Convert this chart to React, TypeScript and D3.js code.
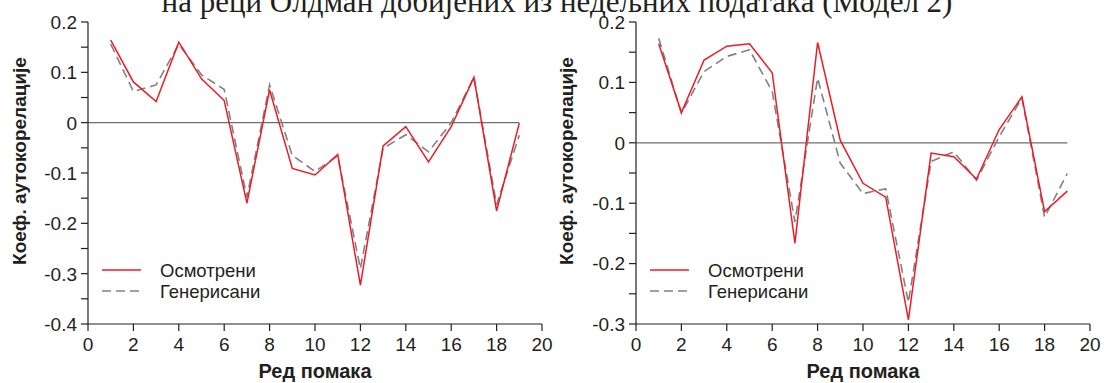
import React from "react";
import * as d3 from "d3";

const lags = d3.range(1, 20);
const leftObserved = [0.164, 0.081, 0.042, 0.16, 0.087, 0.044, -0.16, 0.065, -0.091, -0.104, -0.063, -0.323, -0.046, -0.008, -0.078, -0.008, 0.09, -0.175, -0.001];
const leftGenerated = [0.156, 0.062, 0.075, 0.156, 0.095, 0.066, -0.148, 0.075, -0.065, -0.097, -0.066, -0.29, -0.051, -0.024, -0.058, 0.0, 0.09, -0.163, -0.025];
const rightObserved = [0.164, 0.05, 0.137, 0.16, 0.164, 0.116, -0.166, 0.166, 0.004, -0.067, -0.09, -0.293, -0.017, -0.023, -0.06, 0.022, 0.076, -0.114, -0.08];
const rightGenerated = [0.173, 0.049, 0.118, 0.143, 0.154, 0.085, -0.131, 0.107, -0.034, -0.084, -0.076, -0.264, -0.031, -0.015, -0.062, 0.01, 0.074, -0.123, -0.051];

const xTicks = d3.range(0, 21, 2);
const leftYTicks = [0.2, 0.1, 0, -0.1, -0.2, -0.3, -0.4];
const rightYTicks = [0.2, 0.1, 0, -0.1, -0.2, -0.3];

const titleText = "на реци Олдман добијених из недељних података (Модел 2)";
const yLabel = "Коеф. аутокорелације";
const xLabel = "Ред помака";
const legendLabels = ["Осмотрени", "Генерисани"];

const FONT = "'Liberation Sans', Arial, sans-serif";
const AXIS = "#231f20";

function fmt(v: number) {
  if (Math.abs(v) < 1e-9) return "0";
  return d3.format(".1f")(v).replace("\u2212", "-");
}

function Panel({ x0, x1, y0, y1, yDomain, yTicks, observed, generated, labelX }: any) {
  const x = d3.scaleLinear().domain([0, 20]).range([x0, x1]);
  const y = d3.scaleLinear().domain(yDomain).range([y1, y0]);
  const line = d3
    .line<number>()
    .x((_, i) => x(lags[i]))
    .y((d) => y(d));
  const minor: number[] = [];
  for (let i = 0; i < yTicks.length - 1; i++) minor.push((yTicks[i] + yTicks[i + 1]) / 2);
  const legX = x0 + 14;
  const legY = 270;
  return (
    <g>
      <line x1={x(0)} x2={x(19)} y1={y(0)} y2={y(0)} stroke="#6d6e70" strokeWidth={1.3} />
      <line x1={x0} x2={x0} y1={y(yDomain[1])} y2={y(yDomain[0])} stroke={AXIS} strokeWidth={1.2} />
      {yTicks.map((t: number) => (
        <g key={"y" + t}>
          <line x1={x0 - 7} x2={x0} y1={y(t)} y2={y(t)} stroke={AXIS} strokeWidth={1.2} />
          <text x={x0 - 11} y={y(t)} dy="0.36em" textAnchor="end" fontSize={19} fontFamily={FONT} fill="#231f20">
            {fmt(t)}
          </text>
        </g>
      ))}
      {minor.map((t) => (
        <line key={"m" + t} x1={x0 - 7} x2={x0} y1={y(t)} y2={y(t)} stroke={AXIS} strokeWidth={1.2} />
      ))}
      <line x1={x0} x2={x1} y1={y1} y2={y1} stroke={AXIS} strokeWidth={1.2} />
      {xTicks.map((t) => (
        <g key={"x" + t}>
          <line x1={x(t)} x2={x(t)} y1={y1} y2={y1 + 7} stroke={AXIS} strokeWidth={1.2} />
          <text x={x(t)} y={y1 + 27} textAnchor="middle" fontSize={19} fontFamily={FONT} fill="#231f20">
            {t}
          </text>
        </g>
      ))}
      <text x={(x0 + x1) / 2} y={378} textAnchor="middle" fontSize={20} fontWeight="bold" fontFamily={FONT} fill="#231f20">
        {xLabel}
      </text>
      <text
        transform={`translate(${labelX},${(y0 + y1) / 2 - 12}) rotate(-90)`}
        textAnchor="middle"
        fontSize={19}
        fontWeight="bold"
        fontFamily={FONT}
        fill="#231f20"
      >
        {yLabel}
      </text>
      <path d={line(generated) || ""} fill="none" stroke="#808285" strokeWidth={1.6} strokeDasharray="9,5" />
      <path d={line(observed) || ""} fill="none" stroke="#ed1c24" strokeWidth={1.5} />
      <line x1={legX} x2={legX + 39} y1={legY} y2={legY} stroke="#ed1c24" strokeWidth={1.5} />
      <text x={legX + 58} y={legY + 7} fontSize={18.5} fontFamily={FONT} fill="#231f20">
        {legendLabels[0]}
      </text>
      <line x1={legX} x2={legX + 39} y1={legY + 21} y2={legY + 21} stroke="#808285" strokeWidth={1.6} strokeDasharray="9,5" />
      <text x={legX + 58} y={legY + 28} fontSize={18.5} fontFamily={FONT} fill="#231f20">
        {legendLabels[1]}
      </text>
    </g>
  );
}

export default function App() {
  return (
    <svg
      width={1104}
      height={383}
      style={{ position: "absolute", left: 0, top: 0, background: "#fff" }}
    >
      <text x={557} y={12} textAnchor="middle" fontSize={31} fontFamily="'Liberation Serif', 'Times New Roman', serif" fill="#231f20">
        {titleText}
      </text>
      <Panel
        x0={88}
        x1={542}
        y0={22}
        y1={324}
        yDomain={[-0.4, 0.2]}
        yTicks={leftYTicks}
        observed={leftObserved}
        generated={leftGenerated}
        labelX={26}
      />
      <Panel
        x0={636}
        x1={1090}
        y0={22}
        y1={324}
        yDomain={[-0.3, 0.2]}
        yTicks={rightYTicks}
        observed={rightObserved}
        generated={rightGenerated}
        labelX={573}
      />
    </svg>
  );
}
